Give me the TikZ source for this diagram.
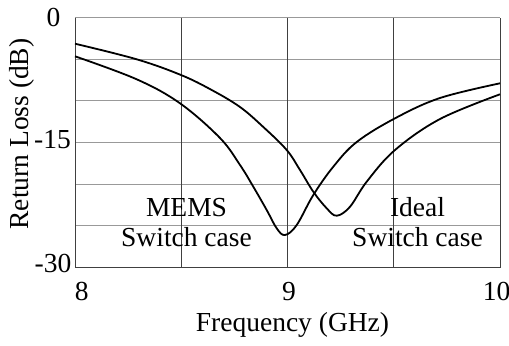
\documentclass[tikz,border=0pt]{standalone}
\usepackage{fontspec}
\setmainfont{Liberation Serif}
\begin{document}
\begin{tikzpicture}[x=1bp,y=-1bp,
  hgrid/.style={draw=black!40, line width=1.2bp},
  vgrid/.style={draw=black!75, line width=0.9bp},
  curve/.style={draw=black, line width=1.8bp, line join=round},
  lbl/.style={font=\fontsize{27.5bp}{31bp}\selectfont, inner sep=0pt, anchor=base}]
\useasboundingbox (0,0) rectangle (509,345);
\fill[white] (0,0) rectangle (509,345);
% frame corners
\coordinate (tl) at (75,17.5);
\coordinate (tr) at (500,17.5);
\coordinate (bl) at (75,267.5);
\coordinate (br) at (500,267.5);
% horizontal grid
\foreach \k in {0,1,2,3,4,5}{
  \draw[hgrid] (75,17.5+41.667*\k) -- (500,17.5+41.667*\k);
}
% vertical grid
\foreach \xx in {181.25,287.5,393.75}{
  \draw[vgrid] (\xx,17.5) -- (\xx,267.5);
}
\draw[vgrid] (tl) -- (bl) -- (br) -- (tr);
% curves
\draw[curve] plot[smooth, tension=0.6] coordinates {(75,56.3) (136.7,79.3) (180,103.3) (220,138) (240,165) (253.3,186.7) (266.7,210) (276.7,228.3) (285,235) (296.7,225) (313.3,195) (333.3,166.7) (356.7,142) (395,118.3) (440,98) (500,83.3)};
\draw[curve] plot[smooth, tension=0.6] coordinates {(75,43.7) (136.7,59.3) (181,75) (211.7,90) (240,107) (263.3,127) (286.7,150) (300,170) (313.3,191.7) (326.7,208.3) (336.7,215.7) (350,206.7) (366.7,181.7) (395,150) (440,119) (500,94.3)};
% tick labels
\node[lbl] (y0) at (53.5,26) {0};
\node[lbl] (y15) at (52.5,148.5) {-15};
\node[lbl] (y30) at (53,272.5) {-30};
\node[lbl] (x8) at (81.7,300) {8};
\node[lbl] (x9) at (289,300) {9};
\node[lbl] (x10) at (496.5,300) {10};
% axis titles
\node[lbl] (xlab) at (292.5,331.5) {Frequency (GHz)};
\node[lbl, rotate=90] (ylab) at (28,134) {Return Loss (dB)};
% curve labels
\node[lbl] (mems1) at (186.5,216) {MEMS};
\node[lbl] (mems2) at (186.5,246.7) {Switch case};
\node[lbl] (ideal1) at (417.5,216) {Ideal};
\node[lbl] (ideal2) at (417.5,246.7) {Switch case};
\end{tikzpicture}
\end{document}
